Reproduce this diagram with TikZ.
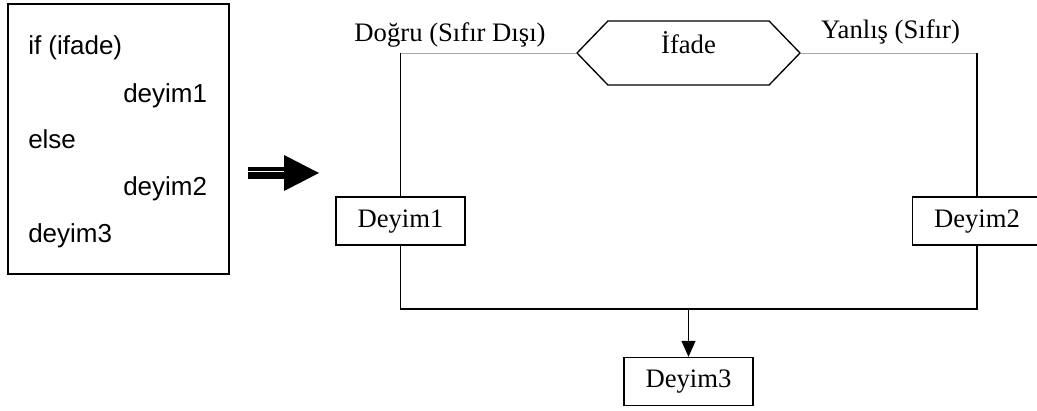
\documentclass[tikz,border=0pt]{standalone}
\usepackage{fontspec}
\setmainfont{Liberation Serif}
\newfontfamily\kodfont{Liberation Sans}
\usetikzlibrary{arrows.meta, shapes.symbols}

\begin{document}
\begin{tikzpicture}[x=0.75pt, y=-0.75pt,
    kutu/.style={draw, line width=1pt, minimum width=96.75pt, minimum height=36pt,
        inner sep=0pt, text height=0.9em, text depth=0pt, font=\fontsize{20}{24}\selectfont},
    kosul/.style={draw, line width=1pt, signal, signal to=west and east, signal pointer angle=92,
        minimum width=167.25pt, minimum height=48pt, inner sep=0pt,
        text height=0.9em, text depth=0.75em, font=\fontsize{20}{24}\selectfont},
    kodsatir/.style={anchor=base west, inner sep=0pt, font=\kodfont\fontsize{19.5}{23}\selectfont},
    etiket/.style={anchor=base, inner sep=0pt, font=\fontsize{20}{24}\selectfont},
    ince/.style={line width=0.5pt, gray!70},
    kalin/.style={line width=1pt}]
    \useasboundingbox (0,0) rectangle (1037,410);

    % kod kutusu
    \node[draw, line width=1pt, minimum width=165.75pt, minimum height=202.5pt] (kod) at (118.5,139) {};
    \foreach \i/\x/\y/\t in {1/28/55/if (ifade), 2/123/102/deyim1, 3/28/148/else, 4/123/195/deyim2, 5/28/242/deyim3}
        \node[kodsatir] (satir\i) at (\x,\y) {\t};

    % buyuk ok
    \fill (248,167.3) rectangle (285,170.7);
    \fill (248,172.3) rectangle (285,179.3);
    \fill (284,155) -- (319,173) -- (284,191) -- cycle;

    % akis semasi
    \node[kosul] (ifade) at (688.5,53) {İfade};
    \node[kutu] (deyim1) at (400.5,221) {Deyim1};
    \node[kutu] (deyim2) at (977,221) {Deyim2};
    \node[kutu] (deyim3) at (688.5,381.5) {Deyim3};

    \node[etiket] (dogru) at (450,41) {Doğru (Sıfır Dışı)};
    \node[etiket] (yanlis) at (890.5,39) {Yanlış (Sıfır)};

    \coordinate (solust) at (deyim1.north |- ifade.west);
    \coordinate (sagust) at (deyim2.north |- ifade.east);
    \coordinate (birles) at (688.5,309);

    \draw[ince] (ifade.west) -- (solust);
    \draw[ince] (ifade.east) -- (sagust);
    \draw[kalin] (solust) -- (deyim1.north);
    \draw[kalin] (sagust) -- (deyim2.north);
    \draw[kalin] (deyim1.south) -- (deyim1.south |- birles) -- (deyim2.south |- birles) -- (deyim2.south);
    \draw[kalin, -{Triangle[length=12pt, width=10.5pt]}] (birles) -- (deyim3.north);
\end{tikzpicture}
\end{document}
